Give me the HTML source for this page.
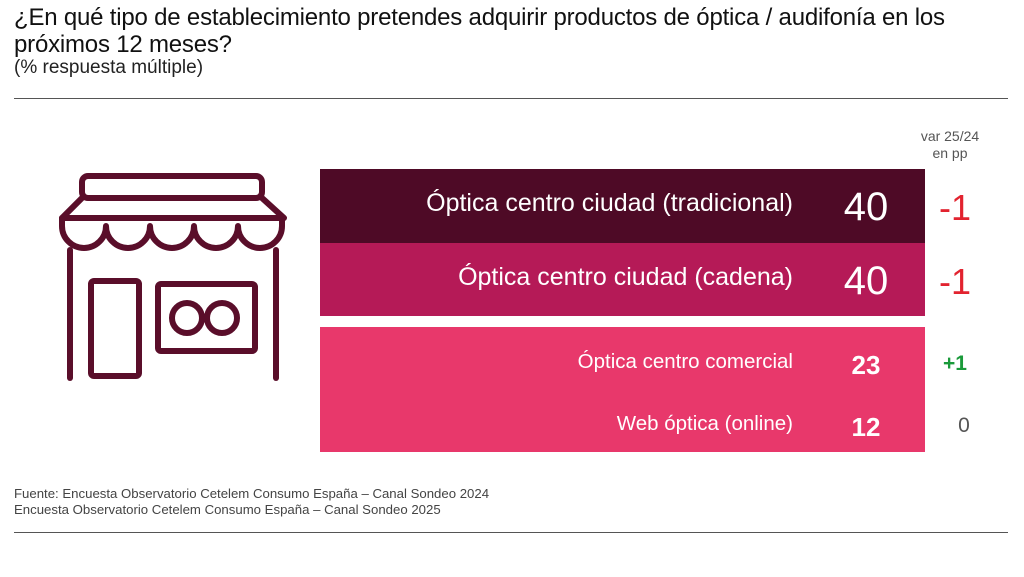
<!DOCTYPE html>
<html><head><meta charset="utf-8"><style>
body{margin:0;width:1024px;height:577px;background:#fff;font-family:"Liberation Sans",sans-serif;position:relative;overflow:hidden}
.a{position:absolute}
.t{left:14px;top:4px;font-size:24px;color:#111;line-height:27px;width:950px;letter-spacing:-0.2px}
.s{left:14px;top:57px;font-size:19px;color:#222}
.hr{left:14px;width:994px;height:1px;background:#555}
.bar{position:absolute;left:320px;width:605px}
.lab{position:absolute;right:231px;color:#fff;text-align:right;white-space:nowrap}
.num{position:absolute;left:826px;width:80px;color:#fff;text-align:center}
.v{position:absolute;left:915px;width:80px;text-align:center}
</style></head><body>
<div class="a t">¿En qué tipo de establecimiento pretendes adquirir productos de óptica / audifonía en los próximos 12 meses?</div>
<div class="a s">(% respuesta múltiple)</div>
<div class="a hr" style="top:98px"></div>
<svg class="a" style="left:0;top:0" width="320" height="400">
<g fill="none" stroke="#5a0e2a" stroke-width="6" stroke-linejoin="round" stroke-linecap="round">
<rect x="82" y="176" width="180" height="22" rx="6"/>
<path d="M82 198 L62 218 L284 218 L262 198"/>
<path d="M62 218 v8 a22 22 0 0 0 44 0 a22 22 0 0 0 44 0 a22 22 0 0 0 44 0 a22 22 0 0 0 44 0 a22 22 0 0 0 44 0 v-8"/>
<line x1="70" y1="250" x2="70" y2="378"/>
<line x1="276" y1="250" x2="276" y2="378"/>
<rect x="91" y="281" width="48" height="95" rx="3"/>
<rect x="158" y="284" width="97" height="67" rx="3"/>
<circle cx="187" cy="318" r="15"/>
<circle cx="222" cy="318" r="15"/>
</g></svg>
<div class="a" style="left:905px;top:128px;width:90px;text-align:center;font-size:14px;color:#555;line-height:17px">var 25/24<br>en pp</div>
<div class="bar" style="top:169px;height:74px;background:#4e0a26"></div>
<div class="bar" style="top:243px;height:73px;background:#b51a57"></div>
<div class="bar" style="top:327px;height:125px;background:#e8386b"></div>
<div class="lab" style="top:189px;font-size:25px">Óptica centro ciudad (tradicional)</div>
<div class="lab" style="top:263px;font-size:25px">Óptica centro ciudad (cadena)</div>
<div class="lab" style="top:350px;font-size:20.5px">Óptica centro comercial</div>
<div class="lab" style="top:412px;font-size:20.5px">Web óptica (online)</div>
<div class="num" style="top:185px;font-size:40px">40</div>
<div class="num" style="top:259px;font-size:40px">40</div>
<div class="num" style="top:350px;font-size:26px;font-weight:bold">23</div>
<div class="num" style="top:412px;font-size:26px;font-weight:bold">12</div>
<div class="v" style="top:187px;font-size:36px;color:#e2232f">-1</div>
<div class="v" style="top:261px;font-size:36px;color:#e2232f">-1</div>
<div class="v" style="top:352px;font-size:21px;color:#1a9a3a;font-weight:bold">+1</div>
<div class="v" style="top:414px;font-size:21px;color:#555;left:924px">0</div>
<div class="a" style="left:14px;top:486px;font-size:13.2px;color:#444;line-height:16px">Fuente: Encuesta Observatorio Cetelem Consumo España – Canal Sondeo 2024<br>Encuesta Observatorio Cetelem Consumo España – Canal Sondeo 2025</div>
<div class="a hr" style="top:532px"></div>
</body></html>
